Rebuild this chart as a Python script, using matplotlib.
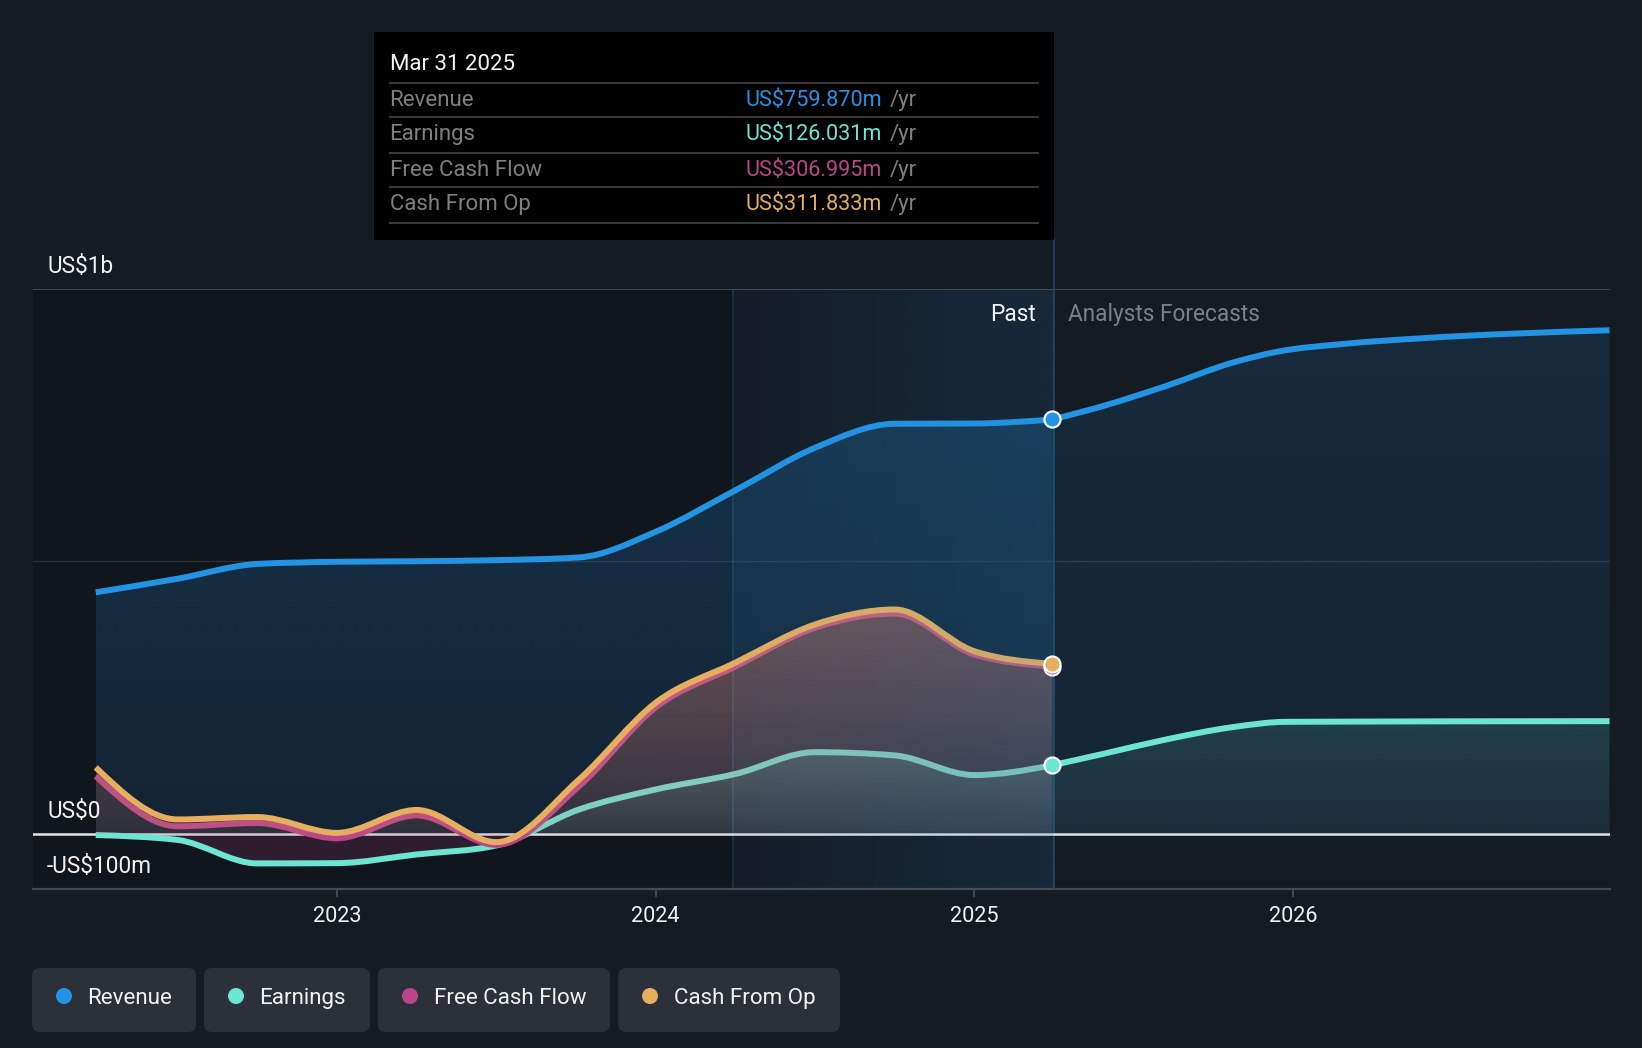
import numpy as np
import matplotlib
matplotlib.use('Agg')
import matplotlib.pyplot as plt
from matplotlib.path import Path
from matplotlib.patches import PathPatch, FancyBboxPatch, Rectangle, Circle

plt.rcParams['font.family'] = ['Roboto', 'DejaVu Sans']

# decimal years, values in US$m
past_x = [2022.243, 2022.5, 2022.75, 2023.0, 2023.25, 2023.5, 2023.76, 2024.0, 2024.25, 2024.5, 2024.75, 2025.0, 2025.245]
revenue_past = [443, 468, 495, 499, 500, 502, 507, 554, 630, 708, 752, 752.5, 759.87]
earnings_past = [-2, -11, -54, -53.5, -37.6, -21, 45, 81.6, 110, 150, 144, 108, 126.03]
fcf_past = [106, 14, 20, -8, 34, -20, 87.6, 232, 307, 378, 404, 329, 306.995]
cfo_past = [122, 26.6, 31, 2, 44, -15, 100, 240.5, 314, 384, 411.5, 335, 311.833]

revenue_fc_x = [2025.245, 2025.41, 2025.6, 2025.81, 2025.95, 2026.17, 2026.41, 2026.993]
revenue_fc = [759.87, 785.6, 821, 864, 884, 899, 909, 923.5]
earnings_fc_x = [2025.245, 2025.41, 2025.6, 2025.81, 2025.98, 2026.993]
earnings_fc = [126.03, 147.6, 173, 195.8, 205.6, 206.8]

year_ticks = [2023, 2024, 2025, 2026]
tooltip_date = 'Mar 31 2025'
names = ['Revenue', 'Earnings', 'Free Cash Flow', 'Cash From Op']
tooltip_values = ['US$759.870m', 'US$126.031m', 'US$306.995m', 'US$311.833m']
colors = ['#2394e4', '#6ce5d2', '#bb4687', '#e6af5f']

BG = '#151b23'
W, H = 1642, 1048
X0, X1 = 2022.0446, 2026.993
PAST_START, FC_LINE = 2024.243, 2025.25
FS = 16


def curve_path(xs, ys, baseline=None):
    # monotone cubic through the points, written as bezier segments
    x = np.array(xs, float)
    y = np.array(ys, float)
    h = np.diff(x)
    s = np.diff(y) / h
    m = np.zeros(len(x))
    for i in range(1, len(x) - 1):
        if s[i - 1] * s[i] > 0:
            p = (s[i - 1] * h[i] + s[i] * h[i - 1]) / (h[i - 1] + h[i])
            m[i] = (np.sign(s[i - 1]) + np.sign(s[i])) * min(abs(s[i - 1]), abs(s[i]), 0.5 * abs(p))
    m[0] = (3 * s[0] - m[1]) / 2
    m[-1] = (3 * s[-1] - m[-2]) / 2
    verts = [(x[0], y[0])]
    codes = [Path.MOVETO]
    for i in range(len(h)):
        verts += [(x[i] + h[i] / 3, y[i] + m[i] * h[i] / 3),
                  (x[i + 1] - h[i] / 3, y[i + 1] - m[i + 1] * h[i] / 3),
                  (x[i + 1], y[i + 1])]
        codes += [Path.CURVE4] * 3
    if baseline is not None:
        verts += [(x[-1], baseline), (x[0], baseline), (x[0], y[0])]
        codes += [Path.LINETO, Path.LINETO, Path.CLOSEPOLY]
    return Path(verts, codes)


def gradient(ax, extent, color, a0, a1, clip=None, horizontal=False, z=2):
    # alpha ramp: a0 at left/bottom of extent, a1 at right/top
    rgba = np.zeros((256, 1, 4))
    rgba[..., :3] = matplotlib.colors.to_rgb(color)
    rgba[:, 0, 3] = np.linspace(a0, a1, 256)
    if horizontal:
        rgba = rgba.transpose(1, 0, 2)
    im = ax.imshow(rgba, extent=extent, origin='lower', aspect='auto',
                   interpolation='bilinear', zorder=z)
    if clip is not None:
        im.set_clip_path(clip, ax.transData)
    return im


def line(ax, path, color, z):
    ax.add_patch(PathPatch(path, fill=False, edgecolor=color, lw=4.3, capstyle='butt',
                           joinstyle='round', zorder=z))


fig = plt.figure(figsize=(W / 100, H / 100), dpi=100, facecolor=BG)
ax = fig.add_axes([32.5 / W, 1 - 888.5 / H, 1577 / W, 600 / H])
ax.patch.set_alpha(0)

# past shading, the blue band sits over the lines but under the dots
ax.axvspan(X0, PAST_START, color='#11151c', lw=0, zorder=0)
gradient(ax, [PAST_START, FC_LINE, -100, 1000], '#1f7fc4', 0.03, 0.14, horizontal=True, z=9.5)
ax.axvline(PAST_START, color='#18303f', lw=1.4, zorder=1)

# grid
ax.axhline(500, color='#ffffff', alpha=0.11, lw=1, zorder=1)
ax.axhline(1000, color='#44484e', lw=1.4, zorder=1)
ax.axhline(-100, color='#454a52', lw=1.6, zorder=1, clip_on=False)
ax.axhline(0, color='#e4e4e4', lw=1.8, zorder=1.5)
ax.vlines(FC_LINE, -100, 1090, color='#1e4058', lw=1.4, zorder=1, clip_on=False)

# revenue
rev_area = curve_path(past_x, revenue_past, 0)
rev_fc_area = curve_path(revenue_fc_x, revenue_fc, 0)
gradient(ax, [past_x[0], FC_LINE, 0, 760], colors[0], 0.12, 0.23, clip=rev_area, z=2)
gradient(ax, [revenue_fc_x[0], X1, 0, 925], colors[0], 0.08, 0.13, clip=rev_fc_area, z=2)
line(ax, curve_path(past_x, revenue_past), colors[0], 3)
line(ax, curve_path(revenue_fc_x, revenue_fc), colors[0], 3)

# earnings
ear_area = curve_path(past_x, earnings_past, 0)
ear_fc_area = curve_path(earnings_fc_x, earnings_fc, 0)
gradient(ax, [past_x[0], FC_LINE, 0, 150], colors[1], 0.05, 0.22, clip=ear_area, z=4)
gradient(ax, [earnings_fc_x[0], X1, 0, 207], colors[1], 0.05, 0.14, clip=ear_fc_area, z=4)
gradient(ax, [past_x[0], 2023.8, -60, 0], colors[2], 0.17, 0.17, clip=ear_area, z=4)
line(ax, curve_path(past_x, earnings_past), colors[1], 5)
line(ax, curve_path(earnings_fc_x, earnings_fc), colors[1], 5)

# free cash flow and cash from op
for vals, col, z in [(fcf_past, colors[2], 6), (cfo_past, colors[3], 8)]:
    gradient(ax, [past_x[0], FC_LINE, 0, 412], col, 0.08, 0.26, clip=curve_path(past_x, vals, 0), z=z)
    line(ax, curve_path(past_x, vals), col, z + 1)

# end dots
for vals, col in zip([revenue_past, earnings_past, fcf_past, cfo_past], colors):
    ax.plot(past_x[-1], vals[-1], 'o', color=col, ms=11.6, mec='white', mew=1.5, zorder=10, clip_on=False)

ax.set_xlim(X0, X1)
ax.set_ylim(-100, 1000)
for s in ax.spines.values():
    s.set_visible(False)
ax.set_yticks([])
ax.set_xticks(year_ticks)
ax.set_xticklabels([str(y) for y in year_ticks], fontsize=15.6, color='#f2f2f2')
ax.tick_params(axis='x', length=6, width=1.4, color='#454a52', pad=6.5)

# everything outside the plot goes on a pixel overlay
ui = fig.add_axes([0, 0, 1, 1])
ui.set_xlim(0, W)
ui.set_ylim(H, 0)
ui.axis('off')
ui.patch.set_alpha(0)


def label(x, y, s, color='#f2f2f2', ha='left', size=FS, z=4):
    ui.text(x, y, s, color=color, ha=ha, va='center_baseline', fontsize=size, zorder=z)


label(47.5, 264, 'US$1b', size=16.3)
label(47.5, 809, 'US$0', size=16.3)
label(47, 864, '-US$100m', size=16.3)
label(1035.5, 312, 'Past', ha='right', size=16.3)
label(1068, 312, 'Analysts Forecasts', color='#7d8186', size=16.3)

# tooltip
ui.add_patch(Rectangle((374, 32), 680, 208, color='black', lw=0, zorder=3))
label(390, 62, tooltip_date)
for y in [82.7, 116.7, 152.7, 186.7, 222.8]:
    ui.plot([390, 1038], [y, y], color='#3a3a3a', lw=1.4, zorder=4)
for y, n, v, c in zip([98.2, 132.2, 168, 202], names, tooltip_values, colors):
    label(389.5, y, n, color='#808080')
    label(745.5, y, v, color=c, size=15.6)
    label(889.5, y, '/yr', color='#808080')

# legend chips
chips = [(32, 196, 64, 87.5), (204, 370, 236, 259.5), (378, 610, 410, 433.5), (618.3, 840, 650, 673.5)]
for (x0, x1, cx, tx), n, c in zip(chips, names, colors):
    ui.add_patch(FancyBboxPatch((x0 + 8, 976), x1 - x0 - 16, 48, boxstyle='round,pad=8,rounding_size=8',
                                fc='#2c3139', ec='none'))
    ui.add_patch(Circle((cx, 996), 8, fc=c, ec='none'))
    label(tx, 996, n, size=16.1)

fig.savefig('out.png', dpi=100, facecolor=BG)
